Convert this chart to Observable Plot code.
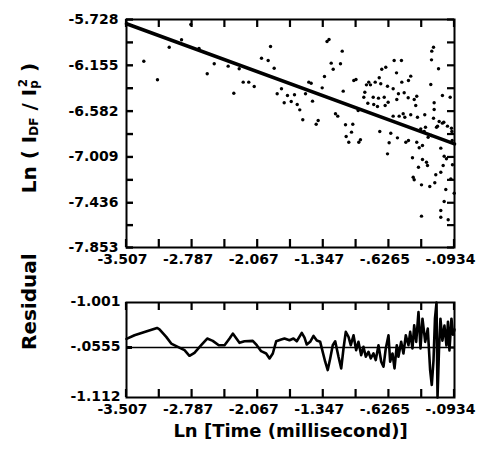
<!DOCTYPE html>
<html>
<head>
<meta charset="utf-8">
<script src="https://cdn.jsdelivr.net/npm/d3@7"></script>
<script src="https://cdn.jsdelivr.net/npm/@observablehq/plot@0.6"></script>
<style>
  html, body { margin: 0; padding: 0; background: #fff; }
  #chart { width: 481px; height: 464px; position: relative; }
  #chart svg { display: block; }
</style>
</head>
<body>
<div id="chart"></div>
<script>
// ---- axis ticks / labels ----
const xDomain = [-3.507, 0.0934];
const xLabelValues = [-3.507, -2.787, -2.067, -1.347, -0.6265, 0.0934];
const xTickLabels = ["-3.507", "-2.787", "-2.067", "-1.347", "-.6265", "-.0934"];
const yDomain = [-7.853, -5.728];
const yLabelValues = [-5.728, -6.155, -6.582, -7.009, -7.436, -7.853];
const yTickLabels = ["-5.728", "-6.155", "-6.582", "-7.009", "-7.436", "-7.853"];
const residDomain = [-1.112, 1.001];
const residLabelValues = [1.001, 0, -1.112];
const residTickLabels = ["-1.001", "-.0555", "-1.112"];

const xTitle = "Ln [Time (millisecond)]";
const residTitle = "Residual";

// ---- regression line ----
const fitSlope = -0.311;
const fitIntercept = -6.858;

// ---- scatter points [ln time, ln(IDF/Ip^2)] ----
const scatter = [
  [-3.317,-6.117],[-3.167,-6.290],[-3.038,-5.986],[-2.903,-5.917],[-2.801,-5.775],[-2.711,-5.998],
  [-2.621,-6.234],[-2.544,-6.141],[-2.391,-6.163],[-2.329,-6.415],[-2.270,-6.187],[-2.226,-6.312],
  [-2.165,-6.312],[-2.105,-6.352],[-2.025,-6.089],[-1.952,-6.110],[-1.926,-5.980],[-1.886,-6.182],
  [-1.853,-6.420],[-1.806,-6.374],[-1.776,-6.504],[-1.740,-6.436],[-1.699,-6.492],[-1.663,-6.430],
  [-1.633,-6.520],[-1.605,-6.570],[-1.572,-6.663],[-1.542,-6.420],[-1.506,-6.312],[-1.480,-6.322],
  [-1.465,-6.489],[-1.425,-6.704],[-1.403,-6.669],[-1.359,-6.365],[-1.334,-6.259],[-1.306,-5.933],
  [-1.284,-5.914],[-1.260,-6.135],[-1.238,-6.191],[-1.213,-6.607],[-1.188,-6.629],[-1.158,-6.141],
  [-1.139,-6.023],[-1.128,-6.396],[-1.103,-6.709],[-1.096,-6.818],[-1.067,-6.872],[-1.037,-6.778],
  [-1.023,-6.704],[-1.012,-6.297],[-0.988,-6.287],[-0.964,-6.576],[-0.957,-6.872],[-0.939,-6.849],
  [-0.902,-6.452],[-0.891,-6.406],[-0.873,-6.337],[-0.858,-6.508],[-0.848,-6.312],[-0.829,-6.337],
  [-0.799,-6.452],[-0.793,-6.520],
  [-0.137,-5.986],[-0.156,-6.023],[-0.569,-6.110],[-0.489,-6.110],[-0.159,-6.104],[-0.661,-6.173],
  [-0.705,-6.191],[-0.082,-6.187],[-0.543,-6.225],[-0.387,-6.256],[-0.733,-6.271],[-0.412,-6.297],
  [-0.485,-6.312],[-0.777,-6.312],[-0.167,-6.334],[-0.716,-6.327],[-0.642,-6.350],[-0.580,-6.374],
  [-0.522,-6.420],[-0.459,-6.411],[-0.039,-6.436],[0.046,-6.452],[-0.741,-6.461],[-0.678,-6.452],
  [-0.540,-6.474],[-0.415,-6.458],[-0.321,-6.443],[-0.349,-6.474],[-0.635,-6.499],[-0.752,-6.539],
  [-0.668,-6.530],[-0.130,-6.504],[-0.332,-6.530],[-0.130,-6.567],[-0.580,-6.629],[-0.514,-6.629],
  [-0.470,-6.607],[-0.452,-6.639],[-0.387,-6.616],[-0.313,-6.639],[-0.233,-6.616],[-0.137,-6.648],
  [-0.075,-6.679],[-0.039,-6.694],[0.016,-6.722],[0.060,-6.741],[-0.093,-6.722],[-0.727,-6.772],
  [-0.606,-6.788],[0.064,-6.772],[-0.277,-6.747],[-0.239,-6.772],
  [-0.533,-6.831],[-0.624,-6.877],[-0.441,-6.872],[-0.412,-6.856],[-0.321,-6.872],[-0.294,-6.924],
  [-0.258,-6.902],[-0.057,-6.927],[-0.642,-6.980],[-0.368,-7.017],[-0.258,-7.033],[-0.214,-7.058],
  [-0.203,-7.089],[-0.302,-7.105],[-0.020,-7.002],[0.005,-7.026],[0.071,-7.082],[-0.031,-7.089],
  [-0.112,-7.175],[-0.057,-7.151],[-0.349,-7.222],[-0.360,-7.198],[-0.269,-7.269],[-0.178,-7.284],
  [-0.123,-7.250],[0.053,-7.213],[-0.002,-7.312],[0.090,-7.347],[-0.020,-7.424],[-0.057,-7.508],
  [-0.057,-7.571],[0.024,-7.595],[-0.269,-7.561],
  [-0.225,-6.732],[-0.196,-6.825],[-0.104,-6.732],[-0.024,-6.685],[-0.159,-6.809],[0.068,-6.856]
];

// ---- residual trace [ln time, residual] ----
const residual = [
  [-3.507,0.192],[-3.419,0.272],[-3.309,0.347],[-3.172,0.435],[-3.145,0.404],[-3.071,0.236],
  [-3.016,0.088],[-2.944,0.015],[-2.870,-0.060],[-2.816,-0.184],[-2.761,-0.117],[-2.687,0.051],
  [-2.621,0.199],[-2.560,0.148],[-2.494,0.051],[-2.431,0.051],[-2.376,0.199],[-2.340,0.309],
  [-2.267,0.104],[-2.212,0.139],[-2.121,0.148],[-2.077,0.051],[-2.029,-0.082],[-1.974,-0.133],
  [-1.937,-0.243],[-1.901,-0.133],[-1.864,0.139],[-1.809,0.177],[-1.773,0.199],[-1.718,0.161],
  [-1.674,0.199],[-1.638,0.139],[-1.583,0.325],[-1.553,0.221],[-1.528,0.066],[-1.491,0.126],
  [-1.454,0.258],[-1.418,0.154],[-1.381,0.126],[-1.326,-0.316],[-1.298,-0.502],[-1.271,-0.243],
  [-1.243,0.051],[-1.216,0.139],[-1.180,-0.206],[-1.150,-0.464],[-1.125,-0.022],[-1.100,0.347],
  [-1.070,0.236],[-1.045,0.051],[-1.015,0.272],[-0.986,-0.060],[-0.961,0.126],[-0.931,-0.170],
  [-0.906,0.015],[-0.880,-0.206],[-0.851,-0.095],[-0.826,-0.243],[-0.796,-0.133],[-0.771,-0.281],
  [-0.741,0.051],[-0.711,-0.316],[-0.686,-0.427],[-0.661,-0.022],[-0.631,0.272],[-0.613,-0.316],
  [-0.587,-0.133],[-0.565,-0.464],[-0.540,0.051],[-0.522,-0.206],[-0.492,0.126],[-0.467,-0.133],
  [-0.441,0.272],[-0.412,0.051],[-0.393,0.347],[-0.368,-0.022],[-0.349,0.493],[-0.327,0.126],
  [-0.302,0.789],[-0.280,-0.022],[-0.258,0.641],[-0.228,0.126],[-0.200,0.420],[-0.174,-0.502],
  [-0.156,-0.834],[-0.137,-0.288],[-0.121,0.641],[-0.104,1.001],[-0.093,-1.112],[-0.077,-0.067],
  [-0.061,0.641],[-0.039,0.154],[-0.017,0.486],[0.005,0.044],[0.022,0.574],[0.038,-0.067],
  [0.060,0.641],[0.077,0.287],[0.093,0.398]
];

// ---- helpers ----
const mid = a => a.slice(1).map((v, i) => (v + a[i]) / 2);
const xAll = [...xLabelValues, ...mid(xLabelValues)];
const yAll = [...yLabelValues, ...mid(yLabelValues)];
const xLab = new Map(xLabelValues.map((v, i) => [v, xTickLabels[i]]));
const yLab = new Map(yLabelValues.map((v, i) => [v, yTickLabels[i]]));
const rLab = new Map(residLabelValues.map((v, i) => [v, residTickLabels[i]]));
const FONT = "DejaVu Sans";
const style = {fontFamily: FONT, fontWeight: "bold", fontSize: "14px", background: "#fff", color: "#000", overflow: "visible"};
const FRAME_W = 481 - 126 - 27;
const span = d => d[1] - d[0];

// inward ticks on the left/right edges (short horizontal rules)
function yEdgeTicks(yTickVals, tickPx, leftWidth) {
  const lx = span(xDomain) * tickPx / FRAME_W;
  return [
    Plot.ruleY(yTickVals, {y: d => d, x1: () => xDomain[0], x2: () => xDomain[0] + lx, stroke: "#000", strokeWidth: leftWidth}),
    Plot.ruleY(yTickVals, {y: d => d, x1: () => xDomain[1], x2: () => xDomain[1] - lx, stroke: "#000", strokeWidth: 2.2})
  ];
}
// inward ticks on the top/bottom edges, placed with the plot's own x and y scales
function addXEdgeTicks(plot, tickPx) {
  const sx = plot.scale("x"), sy = plot.scale("y");
  const [bottom, top] = sy.range;
  const g = d3.select(plot).append("g").attr("stroke", "#000").attr("stroke-width", 2.2);
  for (const v of xAll) {
    const px = sx.apply(v);
    g.append("line").attr("x1", px).attr("x2", px).attr("y1", bottom).attr("y2", bottom - tickPx);
    g.append("line").attr("x1", px).attr("x2", px).attr("y1", top).attr("y2", top + tickPx);
  }
}
const xLabels = (pad) => Plot.axisX({anchor: "bottom", ticks: xLabelValues, tickSize: 0, tickPadding: pad, dx: -4,
  tickFormat: d => xLab.get(d), label: null, fontSize: 14, fontWeight: "bold", fontFamily: FONT});

const fitLine = xDomain.map(x => ({x, y: fitIntercept + fitSlope * x}));

const topPlot = Plot.plot({
  width: 481, height: 270,
  marginLeft: 126, marginRight: 27, marginTop: 19, marginBottom: 23,
  style,
  x: {domain: xDomain},
  y: {domain: yDomain},
  marks: [
    xLabels(7),
    Plot.axisY({anchor: "left", ticks: yLabelValues, tickSize: 0, tickPadding: 8,
                tickFormat: d => yLab.get(d), label: null, fontSize: 14, fontWeight: "bold", fontFamily: FONT}),
    Plot.frame({stroke: "#000", strokeWidth: 2}),
    ...yEdgeTicks(yAll, 7, 2.4),
    Plot.dot(scatter, {x: d => d[0], y: d => d[1], r: 1.7, fill: "#000", stroke: null}),
    Plot.line(fitLine, {x: "x", y: "y", stroke: "#000", strokeWidth: 3.6})
  ]
});
addXEdgeTicks(topPlot, 8);

// y title with sub/superscripts
{
  const t = d3.select(topPlot).append("text")
    .attr("transform", "translate(36,128) rotate(-90)")
    .attr("text-anchor", "middle")
    .attr("font-family", FONT).attr("font-weight", "bold").attr("font-size", 20).attr("fill", "#000");
  t.append("tspan").text("Ln ( I");
  t.append("tspan").attr("font-size", 12).attr("dy", 2).text("DF");
  t.append("tspan").attr("dy", -2).text(" / I");
  t.append("tspan").attr("font-size", 12).attr("dy", 2).text("p");
  t.append("tspan").attr("font-size", 12).attr("dx", -7).attr("dy", -11).text("2");
  t.append("tspan").attr("dy", 9).text(" )");
}

const bottomPlot = Plot.plot({
  width: 481, height: 194,
  marginLeft: 126, marginRight: 27, marginTop: 32, marginBottom: 67,
  style,
  x: {domain: xDomain},
  y: {domain: residDomain},
  marks: [
    xLabels(7),
    Plot.axisY({anchor: "left", ticks: residLabelValues, tickSize: 0, tickPadding: 6, dy: -1,
                tickFormat: d => rLab.get(d), label: null, fontSize: 14, fontWeight: "bold", fontFamily: FONT}),
    Plot.frame({stroke: "#000", strokeWidth: 2}),
    Plot.ruleY([0], {stroke: "#000", strokeWidth: 1.6}),
    ...yEdgeTicks([0], 6, 3),
    Plot.line(residual, {x: d => d[0], y: d => d[1], stroke: "#000", strokeWidth: 2.6, strokeLinejoin: "round"}),
    Plot.text([xTitle], {frameAnchor: "bottom", dy: 39, fontSize: 18, fontWeight: "bold", fontFamily: FONT, fill: "#000"}),
    Plot.text([residTitle], {frameAnchor: "left", rotate: -90, dx: -97, fontSize: 20, fontWeight: "bold", fontFamily: FONT, fill: "#000"})
  ]
});
addXEdgeTicks(bottomPlot, 8);

document.getElementById("chart").append(topPlot, bottomPlot);
</script>
</body>
</html>
